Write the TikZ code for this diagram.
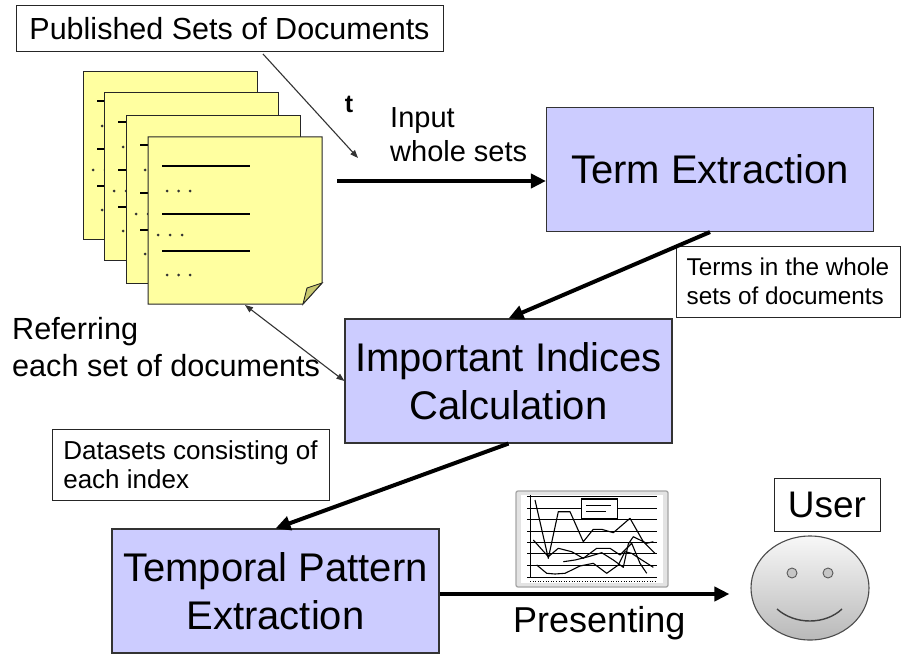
\documentclass[tikz,border=0pt]{standalone}
\usepackage{fontspec}
\setmainfont{Liberation Sans}
\usetikzlibrary{arrows.meta,shapes.geometric}
\definecolor{boxfill}{RGB}{204,204,255}
\definecolor{pagefill}{RGB}{255,255,160}
\definecolor{foldfill}{RGB}{200,200,110}
\newcommand{\fsz}[2]{\fontsize{#1}{#2}\selectfont}
\newcommand{\pagecontent}{%
  \draw[line width=1.3pt] (14,29) -- (102,29);
  \draw[line width=1.3pt] (14,77) -- (102,77);
  \draw[line width=1.3pt] (14,114) -- (102,114);
  \foreach \dx/\dy in {19/54,30.5/54,42/54,10/98,22/98,34/98,19/138,30.5/138,42/138}
    \fill[black!80] (\dx,\dy) circle[radius=1.5pt];
}
\begin{document}
\begin{tikzpicture}[x=1pt,y=-1pt,
  procbox/.style={draw=black!80, line width=1.1pt, fill=boxfill, minimum width=327pt,
    minimum height=124pt, align=center, inner sep=0pt, font=\fsz{40}{48}},
  labelbox/.style={draw=black!85, line width=1pt, fill=white, inner sep=0pt, align=left},
  bigarrow/.style={line width=4pt, -{Triangle[length=15pt,width=14pt]}},
  thinarrow/.style={line width=1.1pt, draw=black!80, -{Triangle[length=8pt,width=6pt]}},
  pagebox/.style={fill=pagefill, draw=black!85, line width=1pt}]
\useasboundingbox (0,0) rectangle (901,655);
\fill[white] (0,0) rectangle (901,655);

% document pages
\foreach \px/\py in {83/72,104/93,126/116}{
  \begin{scope}[shift={(\px,\py)}]
    \filldraw[pagebox] (0,0) rectangle (174,167);
    \pagecontent
  \end{scope}
}
\begin{scope}[shift={(148,137)}]
  \filldraw[pagebox] (0,0) -- (174,0) -- (174,146) -- (155,167) -- (0,167) -- cycle;
  \pagecontent
  \filldraw[fill=foldfill, draw=black!85, line width=0.9pt] (174,146) -- (159,151) -- (155,167) -- cycle;
\end{scope}

% boxes
\node[labelbox, minimum width=427pt, minimum height=46pt, font=\fsz{30.5}{36}] (pub) at (229.5,29) {Published Sets of Documents};
\node[procbox] (term) at (710,169.5) {Term Extraction};
\node[procbox] (imp) at (508.5,381) {Important Indices\\Calculation};
\node[procbox] (temp) at (275.5,591) {Temporal Pattern\\Extraction};
\node[labelbox, minimum width=224pt, minimum height=71pt, font=\fsz{24.3}{29}] (terms) at (788,281.5) {Terms in the whole\\sets of documents};
\node[labelbox, minimum width=277pt, minimum height=71pt, font=\fsz{26}{29}] (data) at (190.5,464.5) {Datasets consisting of\\each index};
\node[labelbox, minimum width=106pt, minimum height=53pt, font=\fsz{37}{37}] (user) at (827,504.5) {User};

% free labels
\node[anchor=north west, align=left, inner sep=0pt, font=\fsz{29}{34}] (inputlbl) at (390,107) {Input\\whole sets};
\node[anchor=base, inner sep=0pt, font=\bfseries\fsz{25}{25}] (tlbl) at (349,113) {t};
\node[anchor=north west, align=left, inner sep=0pt, font=\fsz{30.6}{37}] (refer) at (12,317) {Referring\\each set of documents};
\node[anchor=base west, inner sep=0pt, font=\fsz{36}{36}] (present) at (513,632) {Presenting};

% chart
\filldraw[fill=gray!22, draw=gray!70, line width=1.3pt, rounded corners=2pt] (516,491) rectangle (668,587);
\fill[white] (521,495) rectangle (663,583);
\foreach \yy in {496,508,519,531,542,553,565,577}{
  \draw[line width=0.8pt] (530,\yy) -- (657,\yy);
  \draw[line width=0.6pt] (527,\yy) -- (530,\yy);
}
\draw[line width=0.8pt] (530,495) -- (530,578);
\draw[line width=0.6pt, dotted] (530,581) -- (657,581);
\filldraw[fill=white, draw=black, line width=0.8pt] (581,498) rectangle (617,518);
\draw[line width=1.6pt] (581,499) -- (617,499);
\draw[line width=0.6pt] (586,505) -- (611,505);
\draw[line width=0.6pt] (586,511) -- (606,511);
\begin{scope}[line width=1.1pt, line join=round]
\draw (535,500) -- (548.3,558.3) -- (558.3,511.7) -- (570,511.7) -- (583.3,541.7) -- (593.3,529.3) -- (601.7,529.3) -- (613.3,532.7) -- (630,518.3) -- (643.3,541.7) -- (655,553.3);
\draw (533.3,540) -- (548.3,556.7) -- (558.3,548.3) -- (571.7,551.7) -- (583.3,558.3) -- (596.7,548.3) -- (610,548.3) -- (620,555) -- (631.7,543.3) -- (640,563.3) -- (646.7,573.3);
\draw (536.7,565) -- (546.7,573.3) -- (555,574) -- (565,573.3) -- (580,566) -- (593.3,563.3) -- (606.7,573.3) -- (618.3,565) -- (625,551.7) -- (631.7,553.3) -- (636.7,556.7) -- (653.3,567.3);
\draw (563.3,561.7) -- (575,560) -- (588.3,556.7) -- (601.7,552.7) -- (613.3,560) -- (623.3,567.3) -- (628.3,544) -- (633.3,536.7) -- (646.7,543.3) -- (653.3,541.7);
\end{scope}

% face
\node[ellipse, minimum width=118pt, minimum height=104pt, draw=black!70, line width=1.1pt,
  top color=gray!6, bottom color=gray!55, inner sep=0pt] (face) at (810,588) {};
\filldraw[fill=gray!45, draw=black!65, line width=0.9pt] (792,573) circle[radius=5pt];
\filldraw[fill=gray!45, draw=black!65, line width=0.9pt] (828,573) circle[radius=5pt];
\draw[line width=1.4pt, black!75] (777,609) .. controls (795,625) and (825,625) .. (842,609);

% connectors
\coordinate (tstart) at (263,54);
\coordinate (tend) at (358,158);
\coordinate (docout) at (337,181);
\coordinate (docbot) at (245,305);
\coordinate (tempe) at ([yshift=-3pt]temp.east);
\draw[thinarrow] (tstart) -- (tend);
\draw[bigarrow] (docout) -- (docout -| term.west);
\draw[bigarrow] (term.south) -- (imp.north);
\draw[bigarrow] (imp.south) -- (temp.north);
\draw[line width=1.1pt, draw=black!80, {Triangle[length=8pt,width=6pt]}-{Triangle[length=8pt,width=6pt]}] (docbot) -- (imp.west);
\draw[bigarrow, shorten >=21pt] (tempe) -- (tempe -| face.west);
\end{tikzpicture}
\end{document}
